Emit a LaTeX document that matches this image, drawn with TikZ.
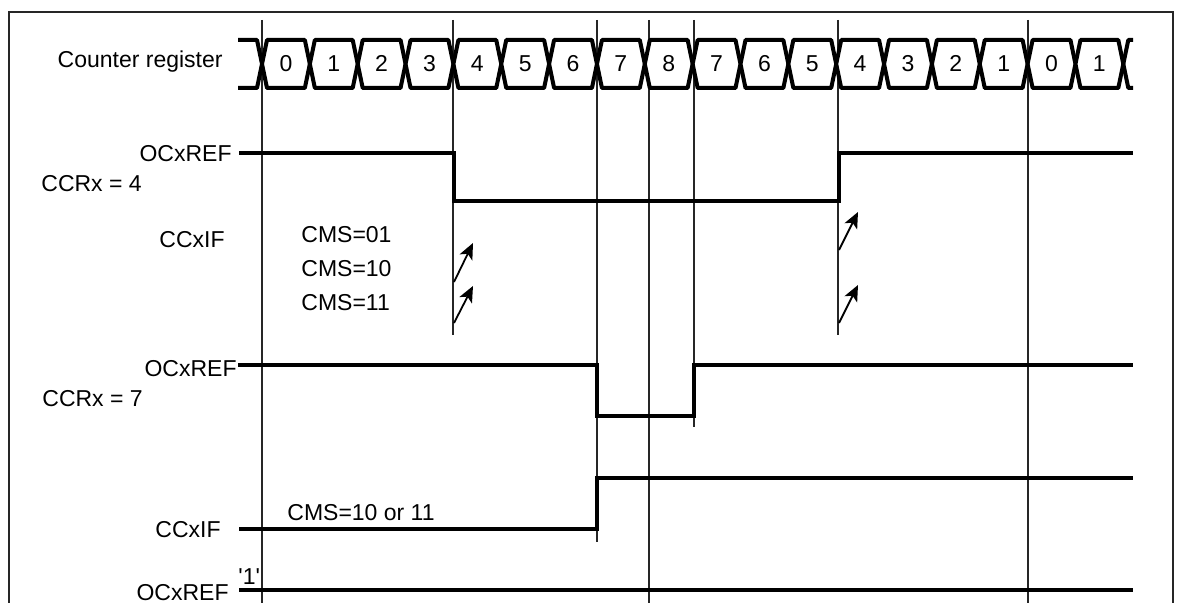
\documentclass[tikz,border=0pt]{standalone}
\usepackage{fontspec}
\setmainfont{Liberation Sans}
\usetikzlibrary{arrows.meta}
\begin{document}
\begin{tikzpicture}[x=0.5pt,y=-0.5pt,
  lbl/.style={font=\fontsize{11.5}{13}\selectfont, inner sep=0pt},
  sig/.style={line width=2pt, line cap=butt, line join=miter},
  gridline/.style={line width=0.75pt, draw=black!85},
  band/.style={line width=2pt, line join=round},
  frameline/.style={line width=0.8pt, draw=black!85},
  flag/.style={line width=0.9pt, -{Stealth[length=8pt,width=7pt,inset=2pt]}}]
\useasboundingbox (0,0) rectangle (1179,603);
% frame
\draw[frameline] (9,603) -- (9,12) -- (1173,12) -- (1173,603);
% vertical grid lines
\coordinate (g0t) at (262,20);  \coordinate (g0b) at (262,603);
\coordinate (g1t) at (453,20);  \coordinate (g1b) at (453,335);
\coordinate (g2t) at (597,20);  \coordinate (g2b) at (597,542);
\coordinate (g3t) at (649,20);  \coordinate (g3b) at (649,603);
\coordinate (g4t) at (694,20);  \coordinate (g4b) at (694,427);
\coordinate (g5t) at (838,20);  \coordinate (g5b) at (838,335);
\coordinate (g6t) at (1028,20); \coordinate (g6b) at (1028,603);
\foreach \i in {0,...,6} \draw[gridline] (g\i t) -- (g\i b);
% counter register band
\draw[band] (238,40) -- (257,40) -- (262,64) -- (257,88) -- (238,88);
\foreach \v [count=\k from 0] in {0,1,2,3,4,5,6,7,8,7,6,5,4,3,2,1,0,1}{
  \pgfmathsetmacro{\l}{262+47.85*\k}
  \pgfmathsetmacro{\r}{\l+47.85}
  \pgfmathsetmacro{\m}{\l+23.925}
  \draw[band,fill=white] (\l,64) -- (\l+5,40) -- (\r-5,40) -- (\r,64) -- (\r-5,88) -- (\l+5,88) -- cycle;
  \node[lbl] (cell\k) at (\m,63.5) {\v};
}
\draw[band] (1133,40) -- (1128.3,40) -- (1123.3,64) -- (1128.3,88) -- (1133,88);
% labels
\node[lbl,anchor=base east] (cntlbl) at (223,68) {Counter register};
\node[lbl,anchor=base east] (oc1) at (232,162) {OCxREF};
\node[lbl,anchor=base west] (ccr4) at (41,192) {CCRx = 4};
\node[lbl,anchor=base east] (if1) at (225,248) {CCxIF};
\node[lbl,anchor=base west] (cms01) at (301,243) {CMS=01};
\node[lbl,anchor=base west] (cms10) at (301,277) {CMS=10};
\node[lbl,anchor=base west] (cms11) at (301,311) {CMS=11};
\node[lbl,anchor=base east] (oc2) at (237,377) {OCxREF};
\node[lbl,anchor=base west] (ccr7) at (42,407) {CCRx = 7};
\node[lbl,anchor=base east] (if2) at (221,538) {CCxIF};
\node[lbl,anchor=base west] (cms1011) at (287,521) {CMS=10 or 11};
\node[lbl,anchor=base west] (one) at (238,585) {\textquotesingle 1\textquotesingle};
\node[lbl,anchor=base east] (oc4) at (229,601) {OCxREF};
% waveforms
\coordinate (w1s) at (239,153); \coordinate (w1e) at (1133,153);
\draw[sig] (w1s) -- (454,153) -- (454,201) -- (839,201) -- (839,153) -- (w1e);
\coordinate (w2s) at (238,365); \coordinate (w2e) at (1133,365);
\draw[sig] (w2s) -- (597,365) -- (597,416) -- (694,416) -- (694,365) -- (w2e);
\coordinate (w3s) at (239,529); \coordinate (w3e) at (1133,478);
\draw[sig] (w3s) -- (597,529) -- (597,478) -- (w3e);
\coordinate (w4s) at (239,590); \coordinate (w4e) at (1133,590);
\draw[sig] (w4s) -- (w4e);
% interrupt flags
\coordinate (a1s) at (454,282); \coordinate (a1e) at (473,243);
\coordinate (a2s) at (454,323); \coordinate (a2e) at (473,286);
\coordinate (a3s) at (839,250); \coordinate (a3e) at (858,212);
\coordinate (a4s) at (839,323); \coordinate (a4e) at (858,285);
\foreach \i in {1,...,4} \draw[flag] (a\i s) -- (a\i e);
\end{tikzpicture}
\end{document}
